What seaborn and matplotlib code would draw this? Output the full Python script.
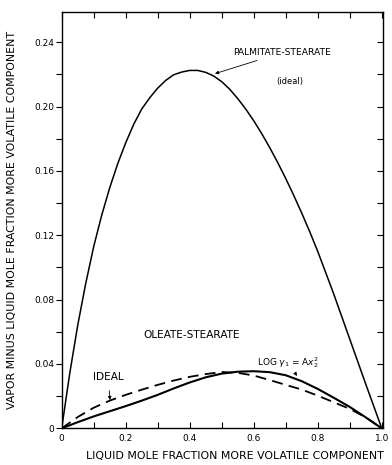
import numpy as np
import pandas as pd
import matplotlib.pyplot as plt
import seaborn as sns
from matplotlib.ticker import MultipleLocator

# values
x_palm = [0, 0.025, 0.05, 0.075, 0.1, 0.125, 0.15, 0.175, 0.2, 0.225, 0.25, 0.275,
          0.3, 0.325, 0.35, 0.375, 0.4, 0.425, 0.45, 0.475, 0.5, 0.525, 0.55, 0.575,
          0.6, 0.625, 0.65, 0.675, 0.7, 0.725, 0.75, 0.775, 0.8, 0.85, 0.9, 0.95, 1.0]
y_palm = [0, 0.034, 0.064, 0.090, 0.113, 0.1325, 0.1495, 0.1645, 0.1775, 0.189, 0.1985, 0.2055,
          0.2115, 0.2163, 0.2198, 0.2215, 0.2225, 0.2225, 0.2213, 0.219, 0.2155, 0.2108, 0.205, 0.1985,
          0.1912, 0.1832, 0.1745, 0.1652, 0.1553, 0.1448, 0.1338, 0.1222, 0.110, 0.0835, 0.0555, 0.0275, 0]

x_ole = [0, 0.05, 0.1, 0.15, 0.2, 0.25, 0.3, 0.35, 0.4, 0.45, 0.5, 0.55, 0.6,
         0.65, 0.7, 0.75, 0.8, 0.85, 0.9, 0.95, 1.0]
y_ole_ideal = [0, 0.007, 0.0128, 0.0172, 0.0208, 0.024, 0.027, 0.0297, 0.032, 0.0337, 0.035, 0.0345, 0.0328,
               0.030, 0.027, 0.0241, 0.0203, 0.0162, 0.0121, 0.0068, 0]
y_ole_log = [0, 0.0038, 0.0074, 0.0106, 0.0138, 0.0172, 0.0208, 0.0248, 0.0285, 0.0317, 0.034, 0.0352, 0.0355,
             0.0349, 0.0330, 0.0293, 0.0245, 0.019, 0.0133, 0.0068, 0]

x_ticks = [0, 0.2, 0.4, 0.6, 0.8, 1.0]
x_ticklabels = ["0", "0.2", "0.4", "0.6", "0.8", "1.0"]
y_ticks = [0, 0.04, 0.08, 0.12, 0.16, 0.20, 0.24]
y_ticklabels = ["0", "0.04", "0.08", "0.12", "0.16", "0.20", "0.24"]

sns.set_style("ticks")
plt.rcParams['font.family'] = ['DejaVu Sans']
plt.rcParams['text.color'] = 'black'
plt.rcParams['axes.labelcolor'] = 'black'
plt.rcParams['xtick.color'] = 'black'
plt.rcParams['ytick.color'] = 'black'

palm = pd.DataFrame({'x': x_palm, 'y': y_palm})
ole = pd.DataFrame({'x': x_ole, 'ideal': y_ole_ideal, 'log': y_ole_log})

fig = plt.figure(figsize=(3.92, 4.65), dpi=100)
ax = fig.add_axes([0.1574, 0.0789, 0.9763 - 0.1574, 0.9748 - 0.0789])

sns.lineplot(data=palm, x='x', y='y', ax=ax, color='black', lw=1.1)
sns.lineplot(data=ole, x='x', y='log', ax=ax, color='black', lw=1.5)
sns.lineplot(data=ole, x='x', y='ideal', ax=ax, color='black', lw=1.3,
             linestyle=(0, (6, 3.5)))

ax.set_xlim(0, 1.003)
ax.set_ylim(0, 0.259)
ax.set_xticks(x_ticks)
ax.set_xticklabels(x_ticklabels)
ax.set_yticks(y_ticks)
ax.set_yticklabels(y_ticklabels)
ax.xaxis.set_minor_locator(MultipleLocator(0.1))
ax.yaxis.set_minor_locator(MultipleLocator(0.02))

for s in ax.spines.values():
    s.set_visible(True)
    s.set_linewidth(1.0)
    s.set_color('black')

ax.tick_params(axis='x', which='both', direction='in', top=True, length=4,
               width=0.8, labelsize=6.5, pad=4)
ax.tick_params(axis='y', which='both', direction='out', length=4,
               width=0.8, labelsize=6.5, pad=1.5)

# inward ticks on the right edge
ax2 = ax.twinx()
ax2.set_ylim(ax.get_ylim())
ax2.yaxis.set_major_locator(MultipleLocator(0.02))
ax2.tick_params(axis='y', direction='in', length=4, width=0.8, labelright=False)
for s in ax2.spines.values():
    s.set_visible(False)

ax.set_xlabel("LIQUID MOLE FRACTION MORE VOLATILE COMPONENT", fontsize=7.9, labelpad=9)
ax.xaxis.set_label_coords(0.54, -0.055)
ax.set_ylabel("VAPOR MINUS LIQUID MOLE FRACTION MORE VOLATILE COMPONENT", fontsize=7.9,
              labelpad=12)

# annotations
ax.annotate("PALMITATE-STEARATE", xy=(0.479, 0.2205), xytext=(0.535, 0.2335),
            fontsize=6.6, va='center', ha='left',
            arrowprops=dict(arrowstyle='-|>', color='black', lw=0.6,
                            mutation_scale=5, shrinkA=0, shrinkB=0))
ax.text(0.711, 0.2156, "(ideal)", fontsize=6.0, ha='center', va='center')
ax.text(0.255, 0.058, "OLEATE-STEARATE", fontsize=7.6, ha='left', va='center')
ax.annotate("IDEAL", xy=(0.151, 0.0176), xytext=(0.145, 0.032),
            fontsize=7.6, ha='center', va='center',
            arrowprops=dict(arrowstyle='-|>', color='black', lw=0.6,
                            mutation_scale=5, shrinkA=4, shrinkB=0))
ax.annotate(r"LOG $\gamma_1$ = A$x_2^2$", xy=(0.735, 0.0325), xytext=(0.708, 0.041),
            fontsize=6.5, ha='center', va='center',
            arrowprops=dict(arrowstyle='-|>', color='black', lw=0.6,
                            mutation_scale=5, shrinkA=4, shrinkB=0))

fig.savefig("out.png", dpi=100)
